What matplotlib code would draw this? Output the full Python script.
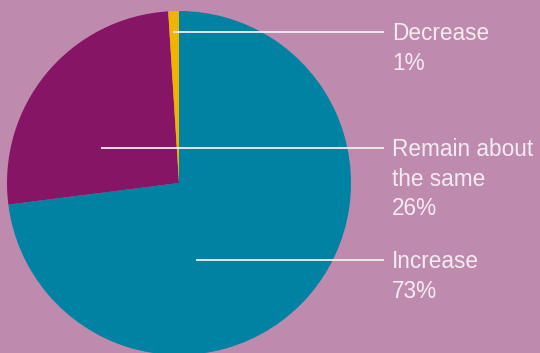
import matplotlib
matplotlib.use("Agg")
import matplotlib.pyplot as plt

labels = ["Increase", "Remain about\nthe same", "Decrease"]
shares = [73, 26, 1]
colors = ["#0083a3", "#861565", "#efb300"]

bg = "#be8aad"
text_color = "#f4ecf2"

# pie placed in pixel-like units so leader lines line up with the labels
cx, cy, r = 179, 170, 172

fig = plt.figure(figsize=(5.4, 3.53), dpi=100)
fig.patch.set_facecolor(bg)
ax = fig.add_axes([0, 0, 1, 1])
ax.set_facecolor(bg)

ax.pie(shares, colors=colors, startangle=90, counterclock=False,
       radius=r, center=(cx, cy), frame=True,
       wedgeprops=dict(linewidth=0))
ax.set_xlim(0, 540)
ax.set_ylim(0, 353)
ax.set_aspect("equal")
ax.axis("off")

# leader lines: start x and height per label
line_start = [196, 101, 173]
line_y = [93, 205, 321]
text_x = 392
baseline_drop = 8.5
row_step = 29.3

for lab, val, x0, y in zip(labels, shares, line_start, line_y):
    ax.plot([x0, 384], [y, y], color=text_color, linewidth=1.3,
            solid_capstyle="butt")
    rows = lab.split("\n") + [f"{val}%"]
    for i, row in enumerate(rows):
        ax.text(text_x, y - baseline_drop - i * row_step, row,
                color=text_color, fontsize=16.3, family="Liberation Sans",
                va="baseline", ha="left")

fig.savefig("out.png", dpi=100, facecolor=bg)
